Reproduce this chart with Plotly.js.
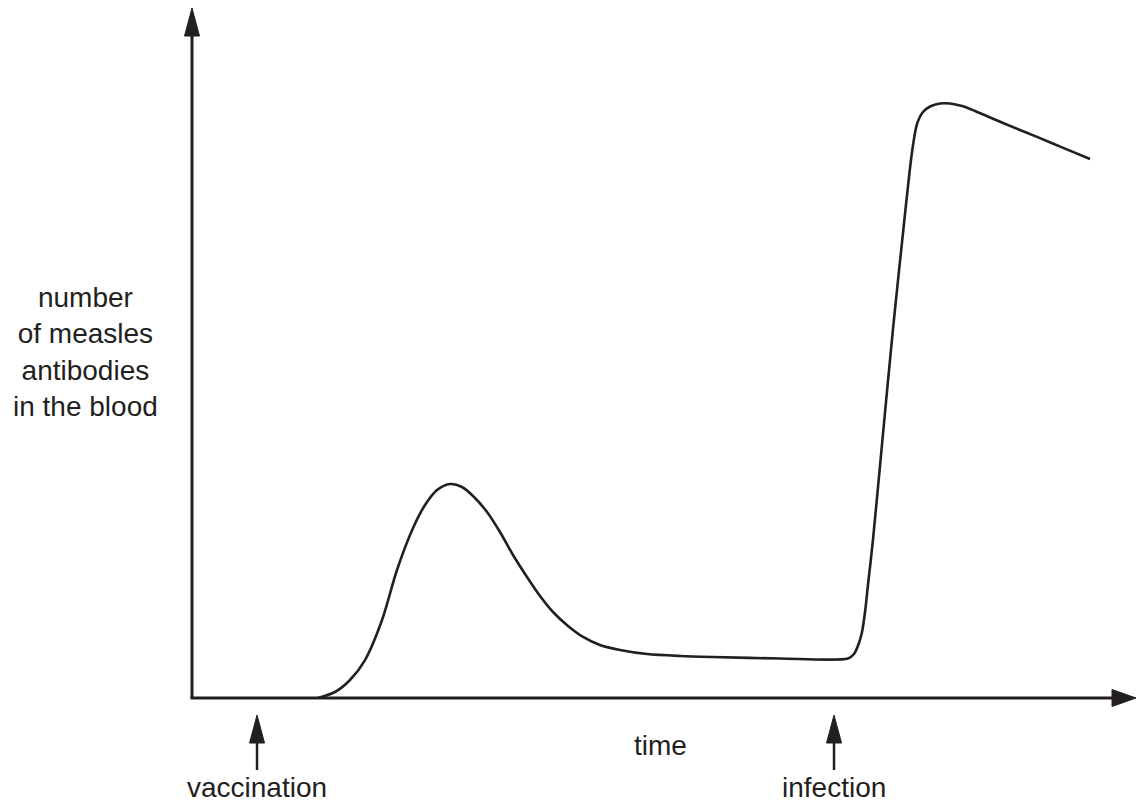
<!DOCTYPE html>
<html>
<head>
<meta charset="utf-8">
<script src="https://cdn.plot.ly/plotly-3.0.1.min.js"></script>
<style>
html,body{margin:0;padding:0;background:#fff;}
#chart{width:1137px;height:805px;}
</style>
</head>
<body>
<div id="chart"></div>
<script>
// ---- data (arbitrary units: time 0-100, antibody level 0-100) ----
const timeValues = [13.33, 15.13, 16.72, 18.31, 20.11, 21.69, 23.39, 24.66, 25.93, 27.30,
  28.57, 29.74, 31.22, 32.59, 33.97, 35.45, 36.83, 38.20, 39.79, 41.38,
  43.17, 45.29, 48.15, 51.64, 55.13, 62.22, 69.42, 70.05, 70.58, 70.90,
  71.22, 71.53, 72.06, 73.02, 74.18, 75.45, 75.98, 76.30, 76.72, 77.35,
  78.10, 79.15, 80.21, 81.48, 82.86, 85.82, 89.42, 92.38, 95.03];
const antibodyLevels = [0, 0.86, 2.58, 5.44, 11.17, 18.34, 24.36, 27.65, 29.80, 30.66,
  30.23, 28.94, 26.65, 23.78, 20.49, 17.34, 14.61, 12.32, 10.32, 8.74,
  7.59, 6.88, 6.30, 6.02, 5.87, 5.66, 5.66, 6.30, 7.88, 9.46,
  12.32, 16.19, 22.64, 36.39, 52.87, 69.34, 75.93, 79.23, 82.23, 83.95,
  84.74, 85.17, 85.17, 84.81, 84.10, 82.38, 80.39, 78.71, 77.22];
const eventLabels = ['vaccination', 'infection'];
const eventTimes = [6.88, 67.94];
const xAxisLabel = 'time';
const yAxisLabel = 'number<br>of measles<br>antibodies<br>in the blood';

// ---- layout helpers (pixel -> paper) ----
const W = 1137, H = 805, ML = 192, MB = 107;
const PW = W - ML, PH = H - MB;
const INK = '#231f20';
const FONT = 'Liberation Sans, Arial, Helvetica, sans-serif';
const px = x => (x - ML) / PW;
const py = y => (PH - y) / PH;
const XU = PW / 100; // pixels per time unit

const shapes = [];
// y axis with arrow
shapes.push({type:'line', xref:'paper', yref:'paper', x0:0, x1:0, y0:0, y1:py(34), line:{color:INK, width:3}});
shapes.push({type:'path', xref:'paper', yref:'paper', fillcolor:INK, line:{color:INK, width:1},
  path:`M${px(184.5)},${py(36)} L${px(192)},${py(8)} L${px(199.5)},${py(36)} Z`});
// x axis with arrow
shapes.push({type:'line', xref:'paper', yref:'paper', x0:px(190.5), x1:px(1114), y0:0, y1:0, line:{color:INK, width:3}});
shapes.push({type:'path', xref:'paper', yref:'paper', fillcolor:INK, line:{color:INK, width:1},
  path:`M${px(1112)},${py(689.5)} L${px(1136)},${py(698)} L${px(1112)},${py(706.5)} Z`});

const annotations = [];
eventTimes.forEach((t, i) => {
  const hw = 7.5 / XU;
  shapes.push({type:'line', xref:'x', yref:'paper', x0:t, x1:t, y0:py(770), y1:py(740), line:{color:INK, width:2.5}});
  shapes.push({type:'path', xref:'x', yref:'paper', fillcolor:INK, line:{color:INK, width:1},
    path:`M${t-hw},${py(743)} L${t},${py(715)} L${t+hw},${py(743)} Z`});
  annotations.push({xref:'x', yref:'paper', x:t, y:py(804), text:eventLabels[i], showarrow:false,
    xanchor:'center', yanchor:'bottom', borderpad:0, font:{family:FONT, size:28, color:INK}});
});
annotations.push({xref:'paper', yref:'paper', x:px(660), y:py(745), text:xAxisLabel, showarrow:false,
  xanchor:'center', yanchor:'middle', font:{family:FONT, size:28, color:INK}});
annotations.push({xref:'paper', yref:'paper', x:px(85), y:py(352), text:yAxisLabel, showarrow:false,
  xanchor:'center', yanchor:'middle', align:'center', font:{family:FONT, size:28, color:INK}});

const trace = {
  x: timeValues, y: antibodyLevels, type:'scatter', mode:'lines',
  line:{color:INK, width:2.6, shape:'spline', smoothing:0.8},
  cliponaxis:false, hoverinfo:'skip'
};

const layout = {
  width: W, height: H,
  margin:{l:ML, r:0, t:0, b:MB, pad:0},
  paper_bgcolor:'#ffffff', plot_bgcolor:'#ffffff',
  showlegend:false,
  xaxis:{range:[0,100], visible:false, showgrid:false, zeroline:false, fixedrange:true},
  yaxis:{range:[0,100], visible:false, showgrid:false, zeroline:false, fixedrange:true},
  shapes: shapes,
  annotations: annotations
};

Plotly.newPlot('chart', [trace], layout, {displayModeBar:false, staticPlot:true});
</script>
</body>
</html>
